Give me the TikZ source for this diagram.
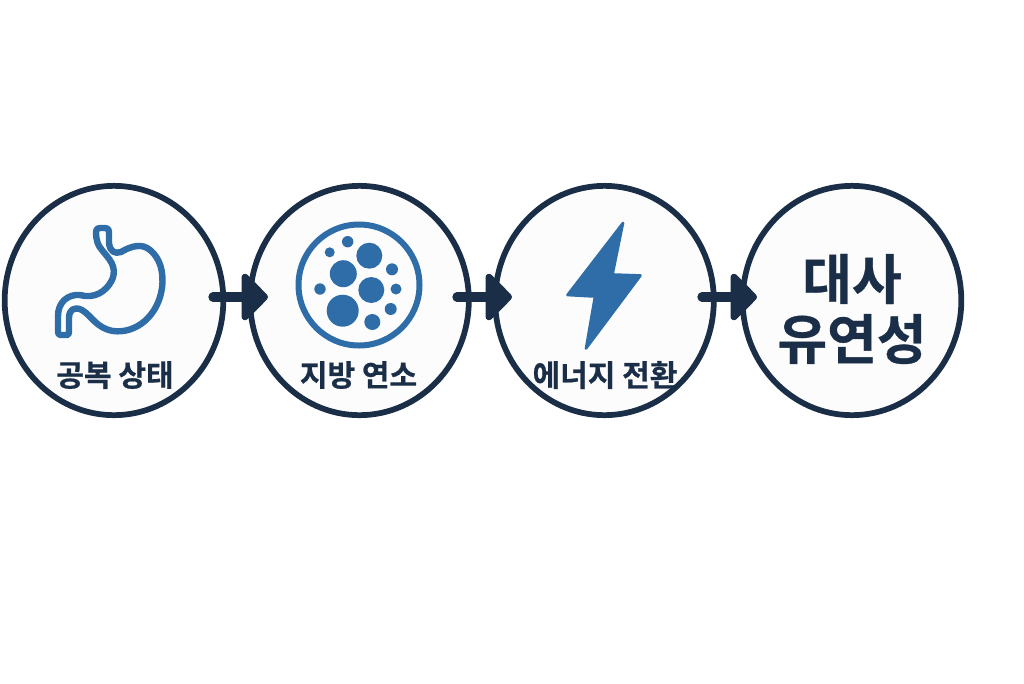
\documentclass[tikz,border=0pt]{standalone}
\usepackage{fontspec}
\setmainfont{Noto Sans CJK KR}[BoldFont={Noto Sans CJK KR Bold},BoldFeatures={FakeBold=0.6}]
\usetikzlibrary{arrows.meta,shapes.geometric}
\definecolor{navy}{HTML}{1A2F47}
\definecolor{iconblue}{HTML}{2F6DA8}
\definecolor{discfill}{HTML}{FCFCFD}
\tikzset{
  disc/.style={draw=navy, fill=discfill, line width=4.3pt, ellipse, inner sep=0pt, minimum width=164pt, minimum height=172pt},
  flow/.style={draw=navy, line width=7pt, line cap=round, -{Triangle[length=21pt,width=41pt,round]}},
  caption/.style={text=navy, font=\fontsize{22.5}{26}\selectfont\bfseries},
  bigcaption/.style={text=navy, align=center, font=\fontsize{40.5}{45}\selectfont\bfseries},
  dot/.style={fill=iconblue}
}
\begin{document}
\begin{tikzpicture}[x=.75pt,y=-.75pt]

  \useasboundingbox (0,0) rectangle (1024,683);
  \fill[white] (0,0) rectangle (1024,683);

  \node[disc] (fasting) at (114,300.5) {};
  \node[disc] (burning) at (359.5,300.5) {};
  \node[disc] (energy) at (604.5,300.5) {};
  \node[disc] (flexible) at (852,300.5) {};

  % stomach
  \draw[iconblue, line width=4.8pt, line join=round]
    (96,232) .. controls (96,229) and (97,228) .. (100,228)
    -- (105,228) .. controls (108,228) and (109,229) .. (109,232)
    -- (109,243) .. controls (110,252) and (115,254) .. (121,252)
    .. controls (131,246) and (142,243) .. (150,250)
    .. controls (160,258) and (164,272) .. (162,288)
    .. controls (158,316) and (136,334) .. (113,331)
    .. controls (96,328) and (92,316) .. (82,310)
    .. controls (74,306) and (69,310) .. (69,318)
    -- (69,332) .. controls (69,335) and (68,335) .. (66,335)
    -- (61,335) .. controls (59,335) and (58,334) .. (58,332)
    -- (58,316) .. controls (58,302) and (68,294) .. (80,295)
    .. controls (94,299) and (106,292) .. (112,280)
    .. controls (118,266) and (108,258) .. (102,250)
    .. controls (98,246) and (96,240) .. (96,232) -- cycle;

  % fat cell
  \draw[iconblue, line width=4.5pt] (359,285) circle[radius=60.5];
  \fill[dot] (347.7,241.7) circle[radius=5.7];
  \fill[dot] (329.7,252.3) circle[radius=5];
  \fill[dot] (369.3,255.7) circle[radius=13];
  \fill[dot] (343.3,273.7) circle[radius=13.5];
  \fill[dot] (392,269.3) circle[radius=6];
  \fill[dot] (371.3,290) circle[radius=13];
  \fill[dot] (320,289) circle[radius=5.7];
  \fill[dot] (396,289) circle[radius=5.5];
  \fill[dot] (342.7,310.7) circle[radius=16];
  \fill[dot] (390.7,309) circle[radius=6];
  \fill[dot] (372.3,322) circle[radius=8];

  % bolt
  \filldraw[iconblue, line width=2pt, line join=round]
    (623,223) -- (612.5,274.5) -- (640.5,275.5) -- (586,348.5) -- (595,296.5) -- (567.5,295) -- cycle;

  \node[caption] (fastingtext) at (115,375) {공복 상태};
  \node[caption] (burningtext) at (358.5,375) {지방 연소};
  \node[caption] (energytext) at (605,375) {에너지 전환};
  \node[bigcaption] (flexibletext) at (852,309) {대사\\유연성};

  \coordinate (a1) at (213,297);
  \coordinate (b1) at (268,297);
  \coordinate (a2) at (457,297);
  \coordinate (b2) at (512,297);
  \coordinate (a3) at (702,297);
  \coordinate (b3) at (757,297);
  \draw[flow] (a1) -- (b1);
  \draw[flow] (a2) -- (b2);
  \draw[flow] (a3) -- (b3);

\end{tikzpicture}
\end{document}
